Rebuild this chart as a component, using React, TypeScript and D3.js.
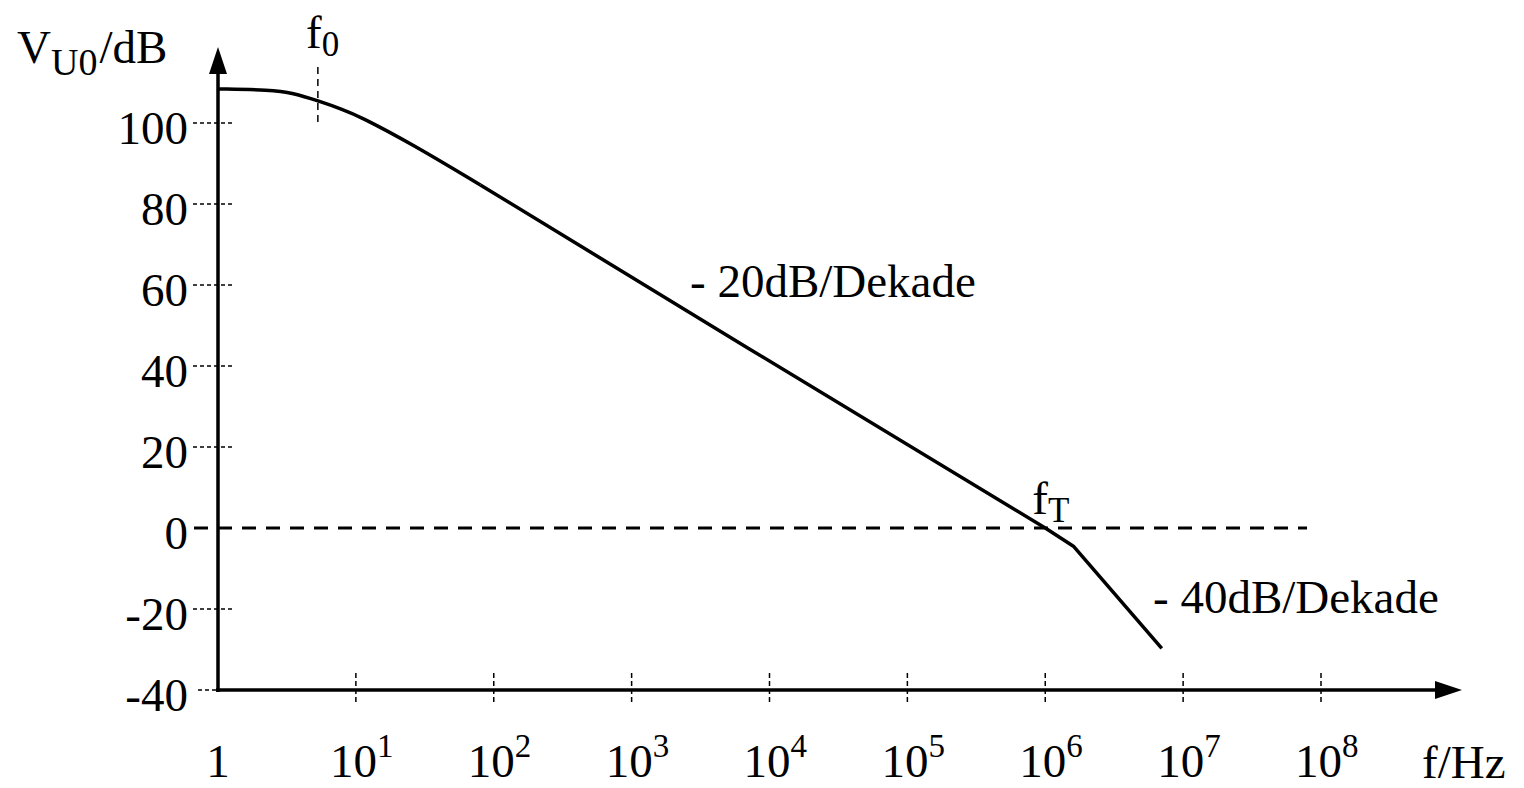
import React from "react";
import * as d3 from "d3";

const freqs = [1, 2.4, 3.5, 5.3, 8.1, 10.7, 25, 80, 7000, 1e6, 1.6e6, 7e6];
const gainDb = [108.4, 108.2, 107.4, 105.5, 103.3, 101.6, 95.0, 84.7, 44.4, 0, -4.5, -29.7];
const yTicks = [100, 80, 60, 40, 20, 0, -20, -40];
const xTicks = [1, 1e1, 1e2, 1e3, 1e4, 1e5, 1e6, 1e7, 1e8];
const xTickExp = ["", "1", "2", "3", "4", "5", "6", "7", "8"];
const f0 = 5.3;
const fT = 1e6;
const slope1Label = "- 20dB/Dekade";
const slope2Label = "- 40dB/Dekade";

const W = 1524;
const H = 788;
const FONT = "'Liberation Serif', 'Times New Roman', serif";
const FS = 47;
const FSS = 33;

export default function App() {
  const x = d3.scaleLog().domain([1, 1e8]).range([218, 1321]);
  const y = d3.scaleLinear().domain([-40, 100]).range([690, 123]);

  const pts = freqs.map((f, i) => [f, gainDb[i]] as [number, number]);
  const low = pts.filter((p) => p[0] <= 80);
  const high = pts.filter((p) => p[0] >= 80);
  const smooth = d3
    .line<[number, number]>()
    .x((d) => x(d[0]))
    .y((d) => y(d[1]))
    .curve(d3.curveBasis);
  const straight = d3
    .line<[number, number]>()
    .x((d) => x(d[0]))
    .y((d) => y(d[1]))
    .curve(d3.curveLinear);

  const x0 = x(1);
  const y0 = y(-40);
  const yTop = 47;
  const xEnd = 1462;

  return (
    <svg
      width={W}
      height={H}
      style={{ position: "absolute", left: 0, top: 0, background: "#fff" }}
      fontFamily={FONT}
    >
      {/* y tick marks */}
      {yTicks.map((t) => (
        <g key={"yt" + t}>
          {t !== 0 && t !== -40 && (
            <line
              x1={x0 - 25}
              x2={x0 + 15}
              y1={y(t)}
              y2={y(t)}
              stroke="#000"
              strokeWidth={1.5}
              strokeDasharray="4 3"
            />
          )}
          {t === -40 && (
            <line x1={x0 - 20} x2={x0} y1={y(t)} y2={y(t)} stroke="#000" strokeWidth={1.5} strokeDasharray="4 3" />
          )}
          <text x={188} y={y(t) + 21} textAnchor="end" fontSize={FS} fill="#000">
            {t}
          </text>
        </g>
      ))}

      {/* zero dashed line */}
      <line
        x1={x0 - 24}
        x2={1307}
        y1={y(0)}
        y2={y(0)}
        stroke="#000"
        strokeWidth={3}
        strokeDasharray="14 10"
      />

      {/* x tick marks */}
      {xTicks.map((t, i) => (
        <g key={"xt" + i}>
          {i > 0 && (
            <line
              x1={x(t)}
              x2={x(t)}
              y1={y0 - 17}
              y2={y0 + 12}
              stroke="#000"
              strokeWidth={1.5}
              strokeDasharray="5 3"
            />
          )}
          {i === 0 ? (
            <text x={x(t)} y={777} textAnchor="middle" fontSize={FS} fill="#000">
              1
            </text>
          ) : (
            <text x={x(t) - 26} y={777} fontSize={FS} fill="#000">
              10
              <tspan fontSize={FSS} dy={-20}>
                {xTickExp[i]}
              </tspan>
            </text>
          )}
        </g>
      ))}

      {/* f0 marker */}
      <line x1={x(f0)} x2={x(f0)} y1={67} y2={126} stroke="#000" strokeWidth={1.5} strokeDasharray="7 5" />
      <text x={306} y={48} fontSize={FS} fill="#000">
        f
        <tspan fontSize={35} dy={8}>
          0
        </tspan>
      </text>

      {/* fT label */}
      <text x={x(fT) - 13} y={514} fontSize={FS} fill="#000">
        f
        <tspan fontSize={35} dy={8}>
          T
        </tspan>
      </text>

      {/* axes */}
      <line x1={x0} x2={x0} y1={y0 + 2} y2={yTop + 20} stroke="#000" strokeWidth={3.5} />
      <path d={`M${x0 - 9},${yTop + 27} L${x0},${yTop} L${x0 + 9},${yTop + 27} Z`} fill="#000" />
      <line x1={x0 - 2} x2={xEnd - 20} y1={y0} y2={y0} stroke="#000" strokeWidth={3.5} />
      <path d={`M${xEnd - 27},${y0 - 9} L${xEnd},${y0} L${xEnd - 27},${y0 + 9} Z`} fill="#000" />

      {/* gain curve */}
      <path d={smooth(low) || ""} fill="none" stroke="#000" strokeWidth={3.5} strokeLinejoin="round" />
      <path d={straight(high) || ""} fill="none" stroke="#000" strokeWidth={3.5} strokeLinejoin="round" />

      {/* annotations */}
      <text x={690} y={297} fontSize={FS} fill="#000">
        {slope1Label}
      </text>
      <text x={1153} y={613} fontSize={FS} fill="#000">
        {slope2Label}
      </text>

      {/* axis titles */}
      <text x={17} y={63} fontSize={FS} fill="#000">
        V
        <tspan fontSize={38} dy={12}>
          U0
        </tspan>
        <tspan fontSize={FS} dy={-12} dx={2}>
          /dB
        </tspan>
      </text>
      <text x={1422} y={778} fontSize={FS} fill="#000">
        f/Hz
      </text>
    </svg>
  );
}
